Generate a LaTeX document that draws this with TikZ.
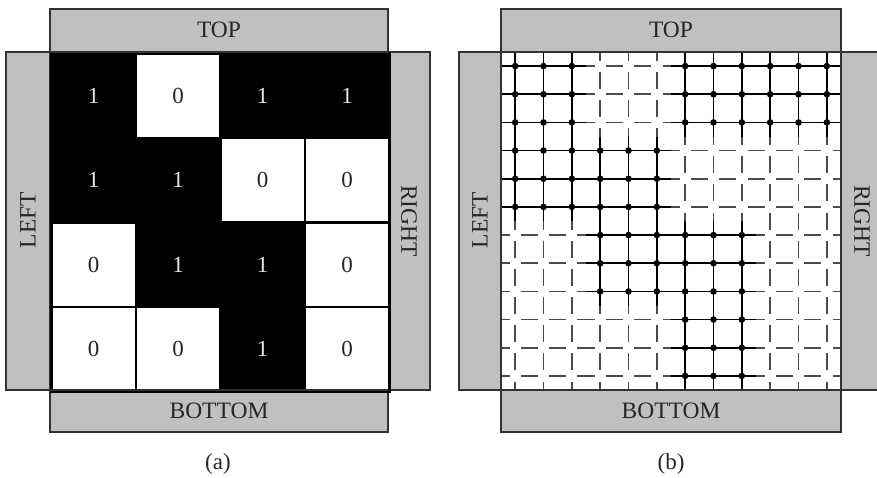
\documentclass[tikz,border=0pt]{standalone}
\usepackage{fontspec}
\setmainfont{Liberation Serif}
\definecolor{boxgray}{RGB}{192,192,192}
\definecolor{boxline}{RGB}{50,50,50}
\begin{document}
\begin{tikzpicture}[x=1pt,y=-1pt,
  side/.style={fill=boxgray, draw=boxline, line width=1.5pt},
  lbl/.style={font=\fontsize{23.5}{26}\selectfont, inner sep=0pt, text=black!85},
  captxt/.style={font=\fontsize{23}{26}\selectfont, inner sep=0pt, text=black!85},
  cellA1/.style={fill=black, draw=black, line width=2.5pt, minimum size=84.5pt, anchor=north west, inner sep=0pt, text=black!10, font=\fontsize{23}{26}\selectfont},
  cellA0/.style={fill=white, draw=black, line width=2.5pt, minimum size=84.5pt, anchor=north west, inner sep=0pt, text=black!85, font=\fontsize{23}{26}\selectfont},
  vsolid/.style={line width=1.8pt, black},
  hsolid/.style={line width=1.8pt, black},
  vdash/.style={line width=1.8pt, black!70, dash pattern=on 17pt off 11.17pt, dash phase=8.5pt},
  hdash/.style={line width=1.8pt, black!70, dash pattern=on 17pt off 11.33pt, dash phase=8.5pt},
  gdot/.style={fill=black}
]
\useasboundingbox (0,0) rectangle (877,477);

% ---------- panel (a) ----------
\path[side] (6,52) rectangle (50,390);
\path[side] (388,52) rectangle (430,390);
\path[side] (50,9) rectangle (388,52);
\path[side] (50,390) rectangle (388,432);
\node[lbl] (atop) at (219,29.5) {TOP};
\node[lbl] (abot) at (219,410.5) {BOTTOM};
\node[lbl, rotate=90] (aleft) at (28,220) {LEFT};
\node[lbl, rotate=-90] (aright) at (409,221) {RIGHT};
\foreach \r/\c/\v in {0/0/1,0/1/0,0/2/1,0/3/1,
                      1/0/1,1/1/1,1/2/0,1/3/0,
                      2/0/0,2/1/1,2/2/1,2/3/0,
                      3/0/0,3/1/0,3/2/1,3/3/0}{
  \pgfmathsetmacro\xa{50+84.5*\c}
  \pgfmathsetmacro\ya{52+84.5*\r}
  \node[cellA\v] (a\r\c) at (\xa,\ya) {\v};
}
\draw[draw=boxline, line width=1.5pt] (50,52) -- (388,52) (50,390) -- (388,390);
\node[captxt] (capa) at (218,464) {(a)};

% ---------- panel (b) ----------
\path[side] (459,52) rectangle (501,390);
\path[side] (841,52) rectangle (885,390);
\path[side] (501,9) rectangle (841,52);
\path[side] (501,390) rectangle (841,432);
\fill[white] (501.75,52.75) rectangle (840.25,389.25);
\node[lbl] (btop) at (671,29.5) {TOP};
\node[lbl] (bbot) at (671,410.5) {BOTTOM};
\node[lbl, rotate=90] (bleft) at (480,220) {LEFT};
\node[lbl, rotate=-90] (bright) at (862,221) {RIGHT};
% zero cells: dashed
\foreach \r/\c in {0/1,1/2,1/3,2/0,2/3,3/0,3/1,3/3}{
  \pgfmathsetmacro\xb{501+85*\c}
  \pgfmathsetmacro\yb{52+84.5*\r}
  \foreach \i in {0,1,2}{
    \draw[vdash] ({\xb+14.17+28.33*\i},\yb) -- ++(0,84.5);
    \draw[hdash] (\xb,{\yb+14.08+28.17*\i}) -- ++(85,0);
  }
}
% one cells: solid with dots
\foreach \r/\c in {0/0,0/2,0/3,1/0,1/1,2/1,2/2,3/2}{
  \pgfmathsetmacro\xb{501+85*\c}
  \pgfmathsetmacro\yb{52+84.5*\r}
  \foreach \i in {0,1,2}{
    \draw[vsolid] ({\xb+14.17+28.33*\i},\yb) -- ++(0,84.5);
    \draw[hsolid] (\xb,{\yb+14.08+28.17*\i}) -- ++(85,0);
  }
  \foreach \i in {0,1,2}{
    \foreach \j in {0,1,2}{
      \fill[gdot] ({\xb+14.17+28.33*\i},{\yb+14.08+28.17*\j}) circle (3.3pt);
    }
  }
}
% redraw side borders over line ends
\draw[draw=boxline, line width=1.5pt] (501,52) rectangle (841,390);
\node[captxt] (capb) at (671,464) {(b)};
\end{tikzpicture}
\end{document}
